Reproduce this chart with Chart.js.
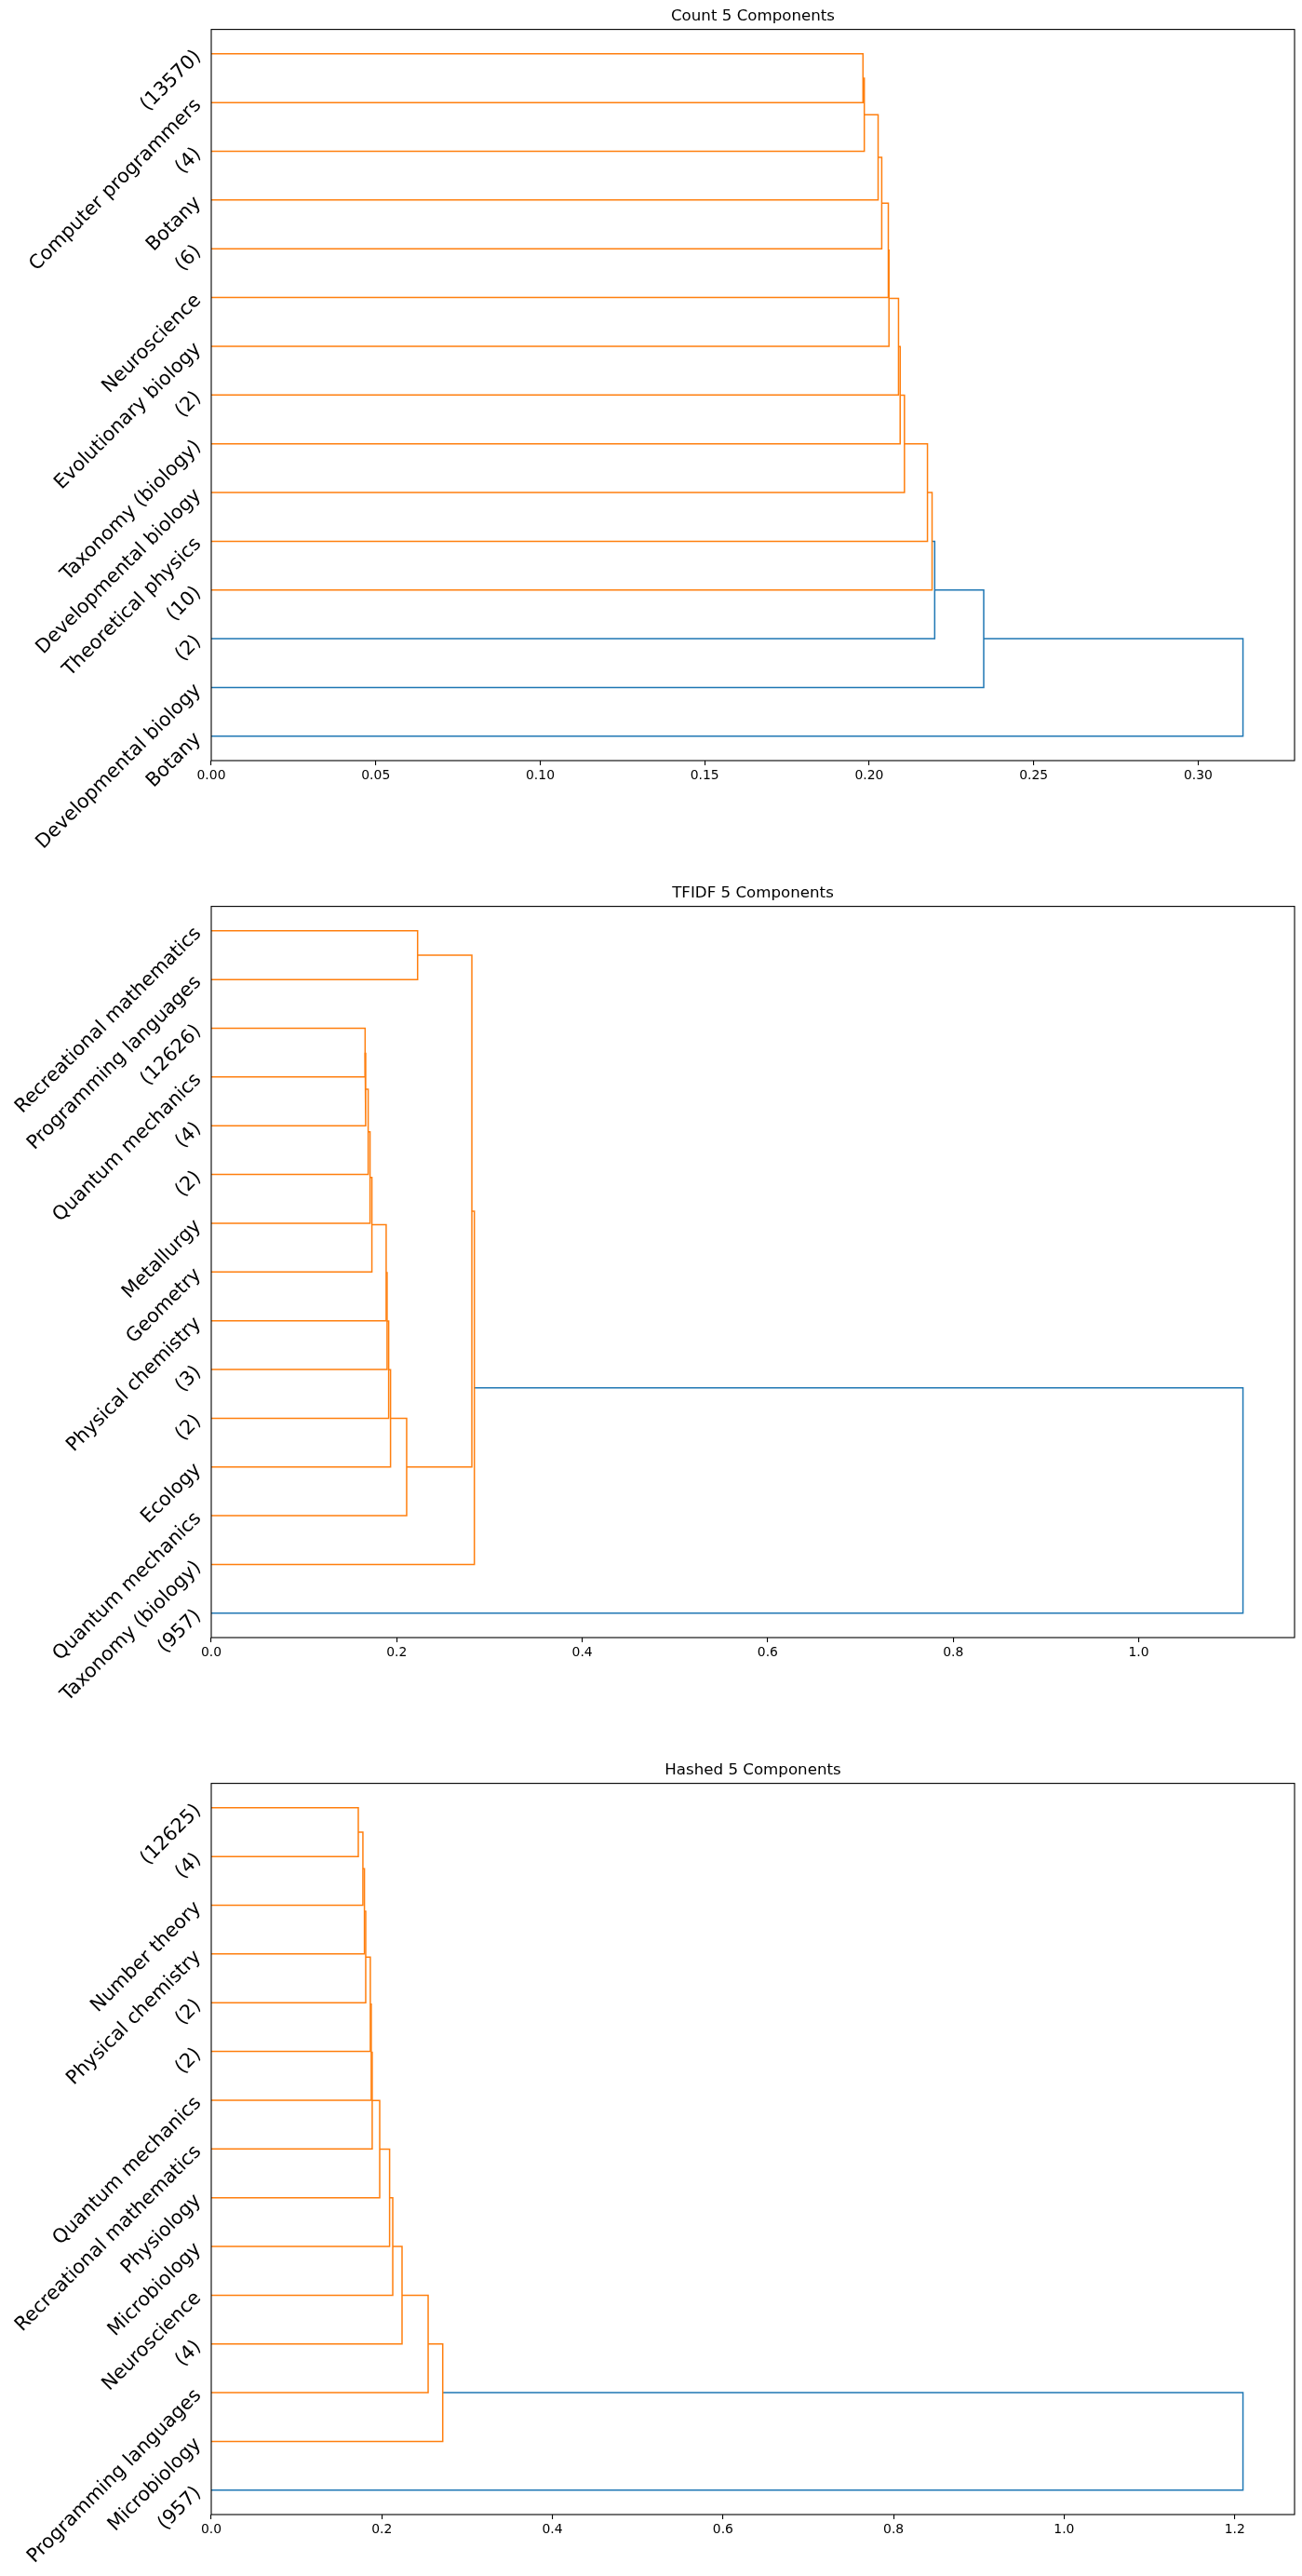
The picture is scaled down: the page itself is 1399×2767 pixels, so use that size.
<!DOCTYPE html>
<html>
<head>
<meta charset="utf-8">
<title>Dendrograms</title>
<script src="https://cdn.jsdelivr.net/npm/chart.js@4.4.1/dist/chart.umd.min.js"></script>
<style>
  html, body { margin: 0; padding: 0; background: #fff; }
  #wrap { position: relative; width: 1399px; height: 2767px; overflow: hidden; }
  canvas { position: absolute; left: 0; }
</style>
</head>
<body>
<div id="wrap">
  <canvas id="countChart" width="1399" height="1000" style="top:0px"></canvas>
  <canvas id="tfidfChart" width="1399" height="1000" style="top:942px"></canvas>
  <canvas id="hashedChart" width="1399" height="883" style="top:1884px"></canvas>
</div>
<script>
// Leaves are listed top to bottom, as they show on the y axis.
// Linkage rows are [child a, child b, distance]; ids >= 15 point at earlier rows (15 = row 0).

const countLeaves = ['(13570)', 'Computer programmers', '(4)', 'Botany', '(6)', 'Neuroscience',
    'Evolutionary biology', '(2)', 'Taxonomy (biology)', 'Developmental biology',
    'Theoretical physics', '(10)', '(2)', 'Developmental biology', 'Botany'];
const countLinkage = [
    [0, 1, 0.1981], [15, 2, 0.1985], [16, 3, 0.2027], [17, 4, 0.2038], [18, 5, 0.2058],
    [19, 6, 0.2060], [20, 7, 0.2089], [21, 8, 0.2094], [22, 9, 0.2107], [23, 10, 0.2177],
    [24, 11, 0.2191], [25, 12, 0.2199], [26, 13, 0.2348], [27, 14, 0.3136]
];

const tfidfLeaves = ['Recreational mathematics', 'Programming languages', '(12626)', 'Quantum mechanics',
    '(4)', '(2)', 'Metallurgy', 'Geometry', 'Physical chemistry', '(3)', '(2)', 'Ecology',
    'Quantum mechanics', 'Taxonomy (biology)', '(957)'];
const tfidfLinkage = [
    [2, 3, 0.1659], [15, 4, 0.1665], [16, 5, 0.1692], [17, 6, 0.1712], [18, 7, 0.1732],
    [19, 8, 0.1886], [20, 9, 0.1896], [21, 10, 0.1913], [22, 11, 0.1933], [23, 12, 0.2107],
    [0, 1, 0.2225], [25, 24, 0.2810], [26, 13, 0.2837], [27, 14, 1.1125]
];

const hashedLeaves = ['(12625)', '(4)', 'Number theory', 'Physical chemistry', '(2)', '(2)',
    'Quantum mechanics', 'Recreational mathematics', 'Physiology', 'Microbiology', 'Neuroscience',
    '(4)', 'Programming languages', 'Microbiology', '(957)'];
const hashedLinkage = [
    [0, 1, 0.1724], [15, 2, 0.1778], [16, 3, 0.1796], [17, 4, 0.1811], [18, 5, 0.1865],
    [19, 6, 0.1876], [20, 7, 0.1887], [21, 8, 0.1975], [22, 9, 0.2091], [23, 10, 0.2128],
    [24, 11, 0.2237], [25, 12, 0.2543], [26, 13, 0.2714], [27, 14, 1.2097]
];

const FONT = '"DejaVu Sans", sans-serif';
const ORANGE = '#ff7f0e';
const BLUE = '#1f77b4';
const AXIS_LEFT = 227;
const AXIS_BOTTOM = 817;

// box round the plot area (all four spines)
const frame = {
    id: 'frame',
    afterDraw(chart) {
        const a = chart.chartArea;
        const ctx = chart.ctx;
        ctx.save();
        ctx.strokeStyle = '#000';
        ctx.lineWidth = 1.1;
        ctx.strokeRect(a.left, a.top, a.right - a.left, a.bottom - a.top);
        ctx.restore();
    }
};

// turn a linkage into U shaped links, like scipy's dendrogram
function dendroLinks(leaves, linkage) {
    const n = leaves.length;
    const pos = leaves.map((_, i) => 10 * (n - 1 - i) + 5);
    const dist = leaves.map(() => 0);
    const maxH = Math.max(...linkage.map(r => r[2]));
    const threshold = 0.7 * maxH;
    const links = [];

    linkage.forEach(([a, b, h]) => {
        links.push({
            data: [
                {x: dist[a], y: pos[a]},
                {x: h, y: pos[a]},
                {x: h, y: pos[b]},
                {x: dist[b], y: pos[b]}
            ],
            showLine: true,
            borderColor: h < threshold ? ORANGE : BLUE,
            borderWidth: 1.5,
            pointRadius: 0,
            fill: false
        });
        pos.push((pos[a] + pos[b]) / 2);
        dist.push(h);
    });
    return {links, maxH};
}

function makeDendrogram(id, title, leaves, linkage, step, decimals) {
    const canvas = document.getElementById(id);
    const H = canvas.height;
    const n = leaves.length;
    const {links, maxH} = dendroLinks(leaves, linkage);
    const leafTicks = leaves.map((_, i) => 10 * i + 5);

    return new Chart(canvas, {
        type: 'scatter',
        data: {datasets: links},
        options: {
            responsive: false,
            animation: false,
            devicePixelRatio: 1,
            layout: {padding: {left: 0, right: 8, top: 0, bottom: 0}},
            plugins: {
                legend: {display: false},
                tooltip: {enabled: false},
                title: {
                    display: true,
                    text: title,
                    fullSize: false,
                    color: '#000',
                    font: {family: FONT, size: 16.67, weight: 'normal', lineHeight: 1.2},
                    padding: {top: 7.6, bottom: 4}
                }
            },
            scales: {
                x: {
                    type: 'linear',
                    min: 0,
                    max: maxH * 1.05,
                    afterFit: s => { s.height = H - AXIS_BOTTOM; },
                    grid: {display: true, drawOnChartArea: false, drawTicks: true, tickLength: 4.9, color: '#000', lineWidth: 1.1},
                    border: {display: false},
                    ticks: {
                        stepSize: step,
                        includeBounds: false,
                        maxRotation: 0,
                        color: '#000',
                        padding: 3,
                        font: {family: FONT, size: 13.9},
                        callback: v => v.toFixed(decimals)
                    }
                },
                y: {
                    type: 'linear',
                    min: 0,
                    max: 10 * n,
                    afterFit: s => { s.width = AXIS_LEFT; },
                    afterBuildTicks: s => { s.ticks = leafTicks.map(v => ({value: v})); },
                    grid: {display: false, drawTicks: false, tickLength: 0},
                    border: {display: false},
                    ticks: {
                        autoSkip: false,
                        minRotation: 45,
                        maxRotation: 45,
                        padding: 14,
                        color: '#000',
                        font: {family: FONT, size: 20.8},
                        callback: v => leaves[n - 1 - Math.round((v - 5) / 10)]
                    }
                }
            }
        },
        plugins: [frame]
    });
}

makeDendrogram('countChart', 'Count 5 Components', countLeaves, countLinkage, 0.05, 2);
makeDendrogram('tfidfChart', 'TFIDF 5 Components', tfidfLeaves, tfidfLinkage, 0.2, 1);
makeDendrogram('hashedChart', 'Hashed 5 Components', hashedLeaves, hashedLinkage, 0.2, 1);
</script>
</body>
</html>
